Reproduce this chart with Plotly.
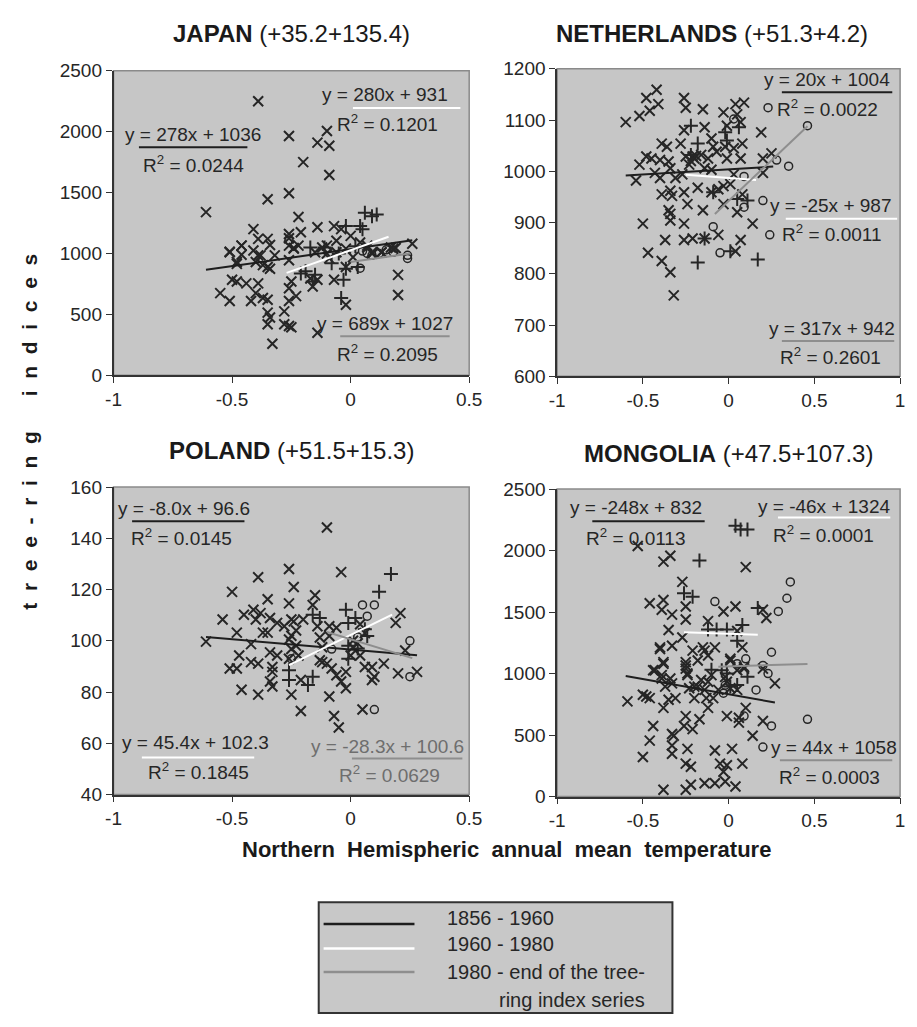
import plotly.graph_objects as go

W, H = 917, 1027

# ---------------- data ----------------
titles = ["JAPAN", "NETHERLANDS", "POLAND", "MONGOLIA"]
locations = ["(+35.2+135.4)", "(+51.3+4.2)", "(+51.5+15.3)", "(+47.5+107.3)"]
period_labels = ["1856 - 1960", "1960 - 1980", "1980 - end of the tree-", "ring index series"]
x_title = "Northern Hemispheric annual mean temperature"
y_title = "tree-ring indices"

x_ticks_short = [-1, -0.5, 0, 0.5]
x_ticklabels_short = ["-1", "-0.5", "0", "0.5"]
x_ticks_long = [-1, -0.5, 0, 0.5, 1]
x_ticklabels_long = ["-1", "-0.5", "0", "0.5", "1"]
y_ticks_japan = [0, 500, 1000, 1500, 2000, 2500]
y_ticks_neth = [600, 700, 800, 900, 1000, 1100, 1200]
y_ticks_pol = [40, 60, 80, 100, 120, 140, 160]
y_ticks_mon = [0, 500, 1000, 1500, 2000, 2500]

# (temperature anomaly, tree-ring index)
japan_1856 = [(-0.39,2250),(-0.26,1965),(-0.14,1910),(-0.10,2005),(-0.09,1885),(-0.20,1750),(-0.09,1645),
 (-0.35,1445),(-0.26,1495),(-0.61,1340),(-0.22,1300),(-0.14,1215),(-0.41,1200),(-0.39,1120),(-0.35,1120),
 (-0.34,1070),(-0.26,1160),(-0.26,1125),(-0.21,1175),(-0.07,1225),(-0.04,1200),(0.00,1145),(-0.51,1015),
 (-0.46,1065),(-0.46,990),(-0.48,915),(-0.41,1025),(-0.39,985),(-0.32,985),(-0.37,905),(-0.26,1065),
 (-0.24,1045),(-0.22,1065),(-0.15,1010),(-0.12,1050),(-0.10,1065),(-0.06,1105),(0.04,1090),(0.07,1065),
 (0.09,1010),(0.13,1010),(0.17,1050),(0.19,1045),(0.26,1080),(-0.55,675),(-0.51,610),(-0.42,610),(-0.40,675),
 (-0.50,785),(-0.48,770),(-0.44,755),(-0.39,755),(-0.37,635),(-0.35,620),(-0.35,515),(-0.34,475),(-0.35,420),
 (-0.33,260),(-0.28,525),(-0.28,420),(-0.25,395),(-0.26,405),(-0.26,715),(-0.26,610),(-0.23,650),(-0.25,770),
 (-0.17,795),(-0.16,730),(-0.14,785),(-0.14,350),(-0.07,785),(-0.09,960),(-0.02,890),(-0.02,580),(0.20,825),
 (0.20,660),(0.07,1050),(0.09,1000),(0.13,1010),(0.18,1040),(-0.02,1040),(0.01,970),(-0.06,1010),(-0.10,1000),
 (-0.24,1040),(-0.26,945),(-0.51,1010),(-0.46,1065),(-0.48,930),(-0.40,930),(-0.38,985),(-0.35,890),(-0.34,875)]
japan_1960 = [(-0.17,1050),(-0.16,770),(-0.15,825),(-0.03,785),(-0.02,875),(0.03,890),(-0.04,635),(0.05,1200),
 (0.06,1335),(0.09,1305),(0.11,1320),(0.04,1225),(-0.02,1225),(-0.21,835),(-0.19,855),(-0.11,1050),(-0.05,1000),
 (0.02,1060),(-0.08,920)]
japan_1980 = [(0.24,985),(0.24,960),(0.04,880),(0.07,1000),(0.09,985),(0.18,1010),(-0.26,1105),(0.12,1000),
 (0.05,1020),(0.15,1030)]

neth_1856 = [(-0.60,1096),(-0.52,1108),(-0.48,1143),(-0.46,1118),(-0.42,1159),(-0.41,1131),(-0.52,1013),
 (-0.48,1029),(-0.45,1025),(-0.54,982),(-0.43,997),(-0.39,1054),(-0.36,1048),(-0.40,1022),(-0.35,1019),
 (-0.34,1006),(-0.31,987),(-0.27,994),(-0.40,987),(-0.39,955),(-0.34,962),(-0.33,952),(-0.35,924),(-0.34,917),
 (-0.34,904),(-0.50,898),(-0.37,866),(-0.26,898),(-0.26,866),(-0.21,869),(-0.47,841),(-0.39,825),(-0.34,803),
 (-0.32,758),(-0.26,1143),(-0.25,1124),(-0.26,1080),(-0.28,1054),(-0.25,1029),(-0.23,1013),(-0.21,1029),
 (-0.20,1025),(-0.16,1032),(-0.14,1086),(-0.15,1121),(-0.12,1025),(-0.10,1064),(-0.09,1048),(-0.07,1038),
 (-0.14,1006),(-0.10,1003),(-0.26,959),(-0.24,936),(-0.18,968),(-0.15,924),(-0.14,869),(-0.06,876),(-0.10,959),
 (-0.06,965),(-0.03,971),(0.01,975),(-0.03,1115),(-0.01,1089),(0.04,1131),(0.05,1111),(0.07,1096),(0.09,1134),
 (-0.02,1048),(0.03,1045),(0.08,1054),(0.07,1025),(-0.01,1025),(-0.03,936),(0.05,920),(0.07,866),(0.04,844),
 (0.14,898),(0.08,955),(0.19,1076),(0.20,1025),(0.25,1035),(0.20,997),(0.03,994),(-0.22,1020),(-0.19,1030)]
neth_1960 = [(-0.22,1089),(-0.18,1054),(-0.14,869),(-0.18,822),(-0.02,1076),(-0.01,1060),(0.01,844),(0.17,828),
 (0.05,946),(0.11,943),(0.06,1086),(-0.09,959),(-0.22,1032)]
neth_1980 = [(0.23,1124),(0.46,1089),(0.35,1010),(0.28,1022),(0.20,943),(0.24,876),(0.09,930),(-0.09,892),
 (-0.05,841),(0.03,1102),(0.09,990)]

pol_1856 = [(-0.61,99.7),(-0.54,108.3),(-0.50,119.1),(-0.48,103.2),(-0.45,110.2),(-0.41,112.1),(-0.39,124.8),
 (-0.40,108.3),(-0.38,110.8),(-0.37,103.2),(-0.35,103.2),(-0.35,116.2),(-0.34,108.9),(-0.31,107.0),(-0.28,105.7),
 (-0.26,128.0),(-0.24,121.0),(-0.26,114.6),(-0.25,108.3),(-0.24,107.6),(-0.20,108.3),(-0.16,114.0),(-0.15,117.8),
 (-0.10,144.2),(-0.04,126.8),(-0.14,105.7),(-0.13,101.3),(-0.09,105.7),(-0.06,105.1),(0.21,110.8),(0.19,107.0),
 (0.23,96.2),(0.20,87.3),(0.28,87.9),(0.14,91.1),(-0.51,89.2),(-0.48,89.2),(-0.47,94.3),(-0.46,80.9),
 (-0.42,91.7),(-0.39,91.1),(-0.39,79.0),(-0.42,98.7),(-0.34,95.5),(-0.33,89.8),(-0.33,87.9),(-0.34,84.1),
 (-0.33,82.2),(-0.31,94.3),(-0.25,96.8),(-0.26,93.0),(-0.25,79.0),(-0.23,98.1),(-0.22,94.3),(-0.21,84.7),
 (-0.21,72.6),(-0.13,92.4),(-0.12,91.7),(-0.10,91.1),(-0.09,78.3),(-0.08,89.2),(-0.07,70.7),(-0.05,66.2),
 (-0.06,86.6),(-0.04,84.1),(-0.02,81.5),(-0.02,87.9),(0.01,97.5),(0.04,94.3),(0.05,73.2),(0.06,89.8),
 (0.09,89.8),(0.09,84.7),(0.10,86.0),(-0.12,97.5),(-0.09,101.9),(0.01,100.0),(0.00,94.3),(-0.26,100.5),
 (-0.25,102.0),(-0.23,104.0),(0.03,99.0),(0.06,103.0),(0.04,106.5)]
pol_1960 = [(0.17,126.1),(0.12,119.1),(-0.02,112.1),(-0.13,108.9),(-0.16,110.2),(-0.01,107.0),(0.02,108.9),
 (0.06,104.5),(0.07,101.9),(-0.01,98.1),(-0.26,88.5),(-0.26,84.7),(-0.18,82.8),(-0.16,86.0),(-0.01,93.0),
 (0.03,97.0)]
pol_1980 = [(0.05,114.0),(0.10,114.0),(0.25,100.0),(0.25,86.0),(-0.08,96.8),(0.10,73.2),(-0.25,93.0),
 (0.07,109.6),(0.03,101.5)]

mon_1856 = [(-0.53,2037),(-0.38,1910),(-0.34,1958),(-0.27,1745),(-0.46,1572),(-0.39,1519),(-0.38,1598),
 (-0.33,1479),(-0.25,1545),(-0.25,1439),(-0.35,1354),(-0.27,1293),(-0.40,1213),(-0.33,1226),(-0.21,1186),
 (-0.15,1213),(-0.08,1213),(-0.12,1426),(-0.03,1505),(0.04,1545),(0.10,1865),(0.05,1346),(0.08,1213),
 (0.20,1519),(0.22,1452),(-0.44,1027),(-0.38,1080),(-0.39,987),(-0.34,960),(-0.33,920),(-0.25,1066),
 (-0.24,1000),(-0.18,1106),(-0.12,1146),(0.01,1120),(0.05,1027),(0.09,1040),(0.27,920),(-0.12,934),
 (-0.20,894),(-0.59,774),(-0.50,827),(-0.48,814),(-0.46,800),(-0.38,721),(-0.35,787),(-0.31,800),(-0.44,574),
 (-0.46,455),(-0.50,322),(-0.33,508),(-0.32,495),(-0.33,415),(-0.33,348),(-0.25,654),(-0.26,574),(-0.21,548),
 (-0.24,388),(-0.25,268),(-0.22,242),(-0.17,628),(-0.20,800),(-0.14,867),(-0.13,800),(-0.12,721),(-0.09,800),
 (-0.06,867),(-0.01,654),(-0.08,375),(0.02,388),(-0.05,268),(-0.01,255),(-0.03,202),(0.08,268),(-0.08,109),
 (-0.14,109),(-0.02,122),(0.04,82),(-0.22,96),(-0.25,56),(-0.38,56),(0.10,721),(0.06,641),(0.06,601),
 (0.14,495),(0.20,614),(0.01,880),(0.05,867),(-0.02,973),(-0.01,934),(-0.10,987),(-0.16,947),(-0.18,894),
 (-0.23,880),(-0.39,960),(-0.37,894),(-0.43,1027),(-0.25,1040),(-0.24,987),(-0.40,1200),(-0.38,1093),
 (-0.25,1093),(-0.14,1186),(0.01,1106),(0.09,1053),(0.20,1040)]
mon_1960 = [(0.04,2202),(0.07,2170),(0.11,2170),(-0.17,1918),(-0.26,1652),(-0.21,1625),(-0.12,1359),
 (-0.07,1359),(-0.01,1359),(0.08,1394),(0.05,1266),(0.17,1532),(-0.04,1027),(-0.01,1000),(0.01,894),
 (0.05,907),(0.11,973),(-0.10,1030)]
mon_1980 = [(0.36,1745),(0.34,1612),(0.29,1505),(-0.08,1585),(0.25,1173),(0.10,1120),(0.05,1080),(0.20,1066),
 (0.23,1000),(0.16,867),(-0.03,840),(0.46,628),(0.25,574),(0.20,402),(0.09,654),(-0.02,905)]

# trend lines: (slope, intercept, x_start, x_end) for 1856-1960, 1960-1980, 1980-end
japan_fits = [(278, 1036, -0.61, 0.26), (689, 1027, -0.27, 0.16), (280, 931, 0.0, 0.25)]
neth_fits = [(20, 1004, -0.60, 0.26), (-25, 987, -0.25, 0.16), (317, 942, -0.08, 0.46)]
pol_fits = [(-8.0, 96.6, -0.61, 0.28), (45.4, 102.3, -0.26, 0.175), (-28.3, 100.6, -0.10, 0.26)]
mon_fits = [(-248, 832, -0.60, 0.27), (-46, 1324, -0.26, 0.17), (44, 1058, -0.06, 0.46)]

# equation labels as printed: (equation, R², period of key line)
japan_eqs = [("y = 278x + 1036", "0.0244", 0), ("y = 280x + 931", "0.1201", 1), ("y = 689x + 1027", "0.2095", 2)]
neth_eqs = [("y = 20x + 1004", "0.0022", 0), ("y = -25x + 987", "0.0011", 1), ("y = 317x + 942", "0.2601", 2)]
pol_eqs = [("y = -8.0x + 96.6", "0.0145", 0), ("y = 45.4x + 102.3", "0.1845", 1), ("y = -28.3x + 100.6", "0.0629", 2)]
mon_eqs = [("y = -248x + 832", "0.0113", 0), ("y = -46x + 1324", "0.0001", 1), ("y = 44x + 1058", "0.0003", 2)]

# ---------------- styling / layout ----------------
FONT = "Liberation Sans, Arial, sans-serif"
INK = "#262626"
BG = "#c6c6c6"
line_colors = ["#1e1e1e", "#ffffff", "#8e8e8e"]

panels = [
    dict(series=[japan_1856, japan_1960, japan_1980], fits=japan_fits, eqs=japan_eqs,
         xr=[-1, 0.5], xt=(x_ticks_short, x_ticklabels_short), yr=[0, 2500], yt=y_ticks_japan,
         box=(108, 472, 62, 373), title_pos=(290, 24),
         eq_pos=[(189, 127, 134, 245, 140, 190, 157), (386, 86, 353, 463, 100, 388, 115),
                 (386, 320, 340, 452, 333, 388, 350)]),
    dict(series=[neth_1856, neth_1960, neth_1980], fits=neth_fits, eqs=neth_eqs,
         xr=[-1, 1], xt=(x_ticks_long, x_ticklabels_long), yr=[600, 1200], yt=y_ticks_neth,
         box=(562, 913, 60, 374), title_pos=(720, 24),
         eq_pos=[(838, 71, 792, 905, 84, 839, 100), (842, 200, 796, 910, 213, 843, 228),
                 (843, 325, 792, 907, 338, 842, 353)]),
    dict(series=[pol_1856, pol_1960, pol_1980], fits=pol_fits, eqs=pol_eqs,
         xr=[-1, 0.5], xt=(x_ticks_short, x_ticklabels_short), yr=[40, 160], yt=y_ticks_pol,
         box=(108, 472, 487, 801), title_pos=(290, 450),
         eq_pos=[(180, 509, 127, 242, 522, 178, 538), (192, 748, 137, 252, 763, 195, 777),
                 (388, 752, 352, 465, 764, 390, 780)]),
    dict(series=[mon_1856, mon_1960, mon_1980], fits=mon_fits, eqs=mon_eqs,
         xr=[-1, 1], xt=(x_ticks_long, x_ticklabels_long), yr=[0, 2500], yt=y_ticks_mon,
         box=(562, 913, 489, 803), title_pos=(737, 453),
         eq_pos=[(643, 508, 598, 713, 522, 643, 538), (835, 507, 788, 903, 518, 835, 535),
                 (845, 753, 790, 905, 766, 841, 782)]),
]

symbols = ["x-thin-open", "cross-thin-open", "circle-open"]
sym_size = [10, 10, 8]
sym_width = [2, 2, 1.5]


def px(x):
    return x / W


def py(y):
    return 1 - y / H


fig = go.Figure()
shapes = []
annotations = []

for i, p in enumerate(panels):
    n = "" if i == 0 else str(i + 1)
    xa, ya = "x" + n, "y" + n
    x0, x1, y0, y1 = p["box"]
    fig.update_layout(**{
        "xaxis" + n: dict(domain=[px(x0), px(x1)], range=p["xr"], anchor=ya,
                          tickvals=p["xt"][0], ticktext=p["xt"][1], ticks="outside", ticklen=6,
                          tickcolor="#333", showgrid=False, zeroline=False, showline=True,
                          linecolor="#333", linewidth=1.5,
                          tickfont=dict(family=FONT, size=19, color=INK)),
        "yaxis" + n: dict(domain=[py(y1), py(y0)], range=p["yr"], anchor=xa,
                          tickvals=p["yt"], ticktext=[str(v) for v in p["yt"]], ticks="outside",
                          ticklen=6, tickcolor="#333", showgrid=False, zeroline=False, showline=True,
                          linecolor="#333", linewidth=1.5,
                          tickfont=dict(family=FONT, size=19, color=INK)),
    })
    # plot background
    shapes.append(dict(type="rect", xref=xa + " domain", yref=ya + " domain", x0=0, x1=1, y0=0, y1=1,
                       fillcolor=BG, line=dict(color="#8a8a8a", width=1.5), layer="below"))
    # points
    for k, s in enumerate(p["series"]):
        fig.add_trace(go.Scatter(
            x=[v[0] for v in s], y=[v[1] for v in s], mode="markers", xaxis=xa, yaxis=ya,
            showlegend=False, hoverinfo="skip",
            marker=dict(symbol=symbols[k], size=sym_size[k], color=INK,
                        line=dict(color=INK, width=sym_width[k]))))
    # trend lines
    for k, (a, b, xs, xe) in enumerate(p["fits"]):
        fig.add_trace(go.Scatter(
            x=[xs, xe], y=[a * xs + b, a * xe + b], mode="lines", xaxis=xa, yaxis=ya,
            showlegend=False, hoverinfo="skip", line=dict(color=line_colors[k], width=2)))
    # equation labels
    for (eq, r2, key), (ex, ey, ux0, ux1, uy, rx, ry) in zip(p["eqs"], p["eq_pos"]):
        tcol = "#6e6e6e" if (i == 2 and key == 2) else INK
        annotations.append(dict(text=eq, x=px(ex), y=py(ey), xref="paper", yref="paper",
                                showarrow=False, xanchor="center", yanchor="middle",
                                font=dict(family=FONT, size=19, color=tcol)))
        annotations.append(dict(text="R<sup>2</sup> = " + r2, x=px(rx), y=py(ry), xref="paper",
                                yref="paper", showarrow=False, xanchor="center", yanchor="middle",
                                font=dict(family=FONT, size=19, color=tcol)))
        shapes.append(dict(type="line", xref="paper", yref="paper", x0=px(ux0), x1=px(ux1),
                           y0=py(uy), y1=py(uy), line=dict(color=line_colors[key], width=2)))
    # panel title
    tx, ty = p["title_pos"]
    annotations.append(dict(text="<b>" + titles[i] + "</b> " + locations[i], x=px(tx), y=py(ty),
                            xref="paper", yref="paper", showarrow=False, xanchor="center",
                            yanchor="middle", font=dict(family=FONT, size=24, color="#1a1a1a")))

# axis titles
sp = "\u00a0\u00a0\u00a0"
ytxt = ("\u00a0\u00a0".join(list("tree-ring"))) + sp + sp + ("\u00a0\u00a0".join(list("indices")))
annotations.append(dict(text="<b>" + ytxt + "</b>", x=px(22), y=py(430), xref="paper", yref="paper",
                        showarrow=False, textangle=-90, xanchor="center", yanchor="middle",
                        font=dict(family=FONT, size=21, color="#1a1a1a")))
annotations.append(dict(text="<b>" + x_title.replace(" ", "\u00a0\u00a0") + "</b>", x=px(510), y=py(857),
                        xref="paper", yref="paper", showarrow=False, xanchor="center", yanchor="middle",
                        font=dict(family=FONT, size=22, color="#1a1a1a")))

# legend box
shapes.append(dict(type="rect", xref="paper", yref="paper", x0=px(318), x1=px(680), y0=py(1024), y1=py(911),
                   fillcolor="#c8c8c8", line=dict(color="#333", width=2)))
leg_y = [933, 958, 982]
for k in range(3):
    shapes.append(dict(type="line", xref="paper", yref="paper", x0=px(323), x1=px(416), y0=py(leg_y[k]),
                       y1=py(leg_y[k]), line=dict(color=line_colors[k], width=2.5)))
leg_text_pos = [(447, 927), (447, 953), (447, 982), (500, 1011)]
for t, (lx, ly) in zip(period_labels, leg_text_pos):
    annotations.append(dict(text=t, x=px(lx), y=py(ly), xref="paper", yref="paper", showarrow=False,
                            xanchor="left", yanchor="middle", font=dict(family=FONT, size=20, color=INK)))

fig.update_layout(width=W, height=H, margin=dict(l=0, r=0, t=0, b=0), autosize=False,
                  paper_bgcolor="white", plot_bgcolor="rgba(0,0,0,0)",
                  shapes=shapes, annotations=annotations, showlegend=False)

fig.write_html("out.html", config={"displayModeBar": False},
               post_script="document.body.style.margin='0';")
